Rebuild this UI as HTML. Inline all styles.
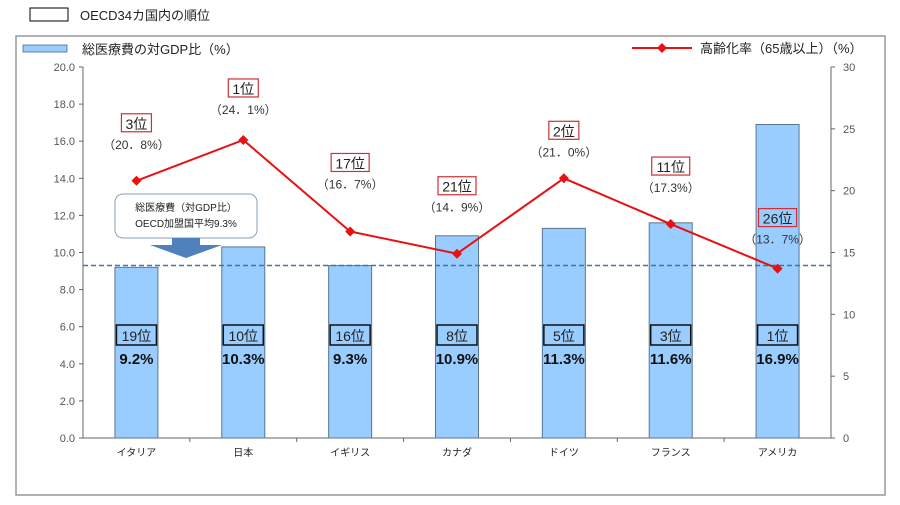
<!DOCTYPE html>
<html><head><meta charset="utf-8"><style>
body{margin:0;background:#fff;}
svg text{font-family:"Liberation Sans","Noto Sans CJK JP",sans-serif;}
</style></head><body>
<svg id="c" width="900" height="500" xmlns="http://www.w3.org/2000/svg"></svg>
<script>
const categories=["イタリア","日本","イギリス","カナダ","ドイツ","フランス","アメリカ"];
const gdpShare=[9.2,10.3,9.3,10.9,11.3,11.6,16.9];
const gdpRank=["19位","10位","16位","8位","5位","3位","1位"];
const agingRate=[20.8,24.1,16.7,14.9,21.0,17.3,13.7];
const agingRank=["3位","1位","17位","21位","2位","11位","26位"];
const agingLabel=["（20．8%）","（24．1%）","（16．7%）","（14．9%）","（21．0%）","（17.3%）","（13．7%）"];
const oecdAvg=9.3;
const leftTicks=[0,2,4,6,8,10,12,14,16,18,20];
const rightTicks=[0,5,10,15,20,25,30];
const labelOffset=[-58,-52,-69,-68,-48,-58,-51];

const NS="http://www.w3.org/2000/svg";
const svg=document.getElementById('c');
const X0=83,X1=831,Y0=438,Y1=67;
const band=(X1-X0)/categories.length;
const xc=i=>X0+band*(i+0.5);
const yL=v=>Y0-(v/20)*(Y0-Y1);
const yR=v=>Y0-(v/30)*(Y0-Y1);
function el(t,a,txt){const e=document.createElementNS(NS,t);for(const k in a)e.setAttribute(k,a[k]);if(txt!=null)e.textContent=txt;svg.appendChild(e);return e;}

let e;
e=el('rect',{x:16,y:36,width:869,height:459,fill:'#fff',stroke:'#999','stroke-width':1.5});

e=el('rect',{x:30,y:8,width:38,height:13,fill:'#fff',stroke:'#000','stroke-width':1});

e=el('text',{x:80,y:20,'font-size':13,fill:'#222'},'OECD34カ国内の順位');

e=el('rect',{x:23,y:45,width:44,height:7,fill:'#99ccff',stroke:'#4a6a8a','stroke-width':0.8});

e=el('text',{x:82,y:54,'font-size':13,fill:'#222'},'総医療費の対GDP比（%）');

e=el('line',{x1:632,y1:48,x2:692,y2:48,stroke:'#e81010','stroke-width':2});

e=el('path',{d:'M662 43 L667 48 L662 53 L657 48Z',fill:'#e81010'});

e=el('text',{x:700,y:53,'font-size':13,fill:'#222'},'高齢化率（65歳以上）（%）');


e=el('line',{x1:X0,y1:Y1,x2:X0,y2:Y0,stroke:'#666'});
e=el('line',{x1:X1,y1:Y1,x2:X1,y2:Y0,stroke:'#666'});
e=el('line',{x1:X0,y1:Y0,x2:X1,y2:Y0,stroke:'#666'});
leftTicks.forEach(v=>{
  e=el('line',{x1:X0-4,y1:yL(v),x2:X0,y2:yL(v),stroke:'#666'});
  e=el('text',{x:X0-8,y:yL(v)+4,'font-size':11,fill:'#555','text-anchor':'end'},v.toFixed(1));
  
});
rightTicks.forEach(v=>{
  e=el('line',{x1:X1,y1:yR(v),x2:X1+4,y2:yR(v),stroke:'#666'});
  e=el('text',{x:X1+12,y:yR(v)+4,'font-size':11,fill:'#555'},String(v));
  
});
for(let i=1;i<categories.length;i++){
  e=el('line',{x1:X0+band*i,y1:Y0,x2:X0+band*i,y2:Y0+4,stroke:'#666'});
}
categories.forEach((c,i)=>{
  e=el('rect',{x:xc(i)-21.5,y:yL(gdpShare[i]),width:43,height:Y0-yL(gdpShare[i]),fill:'#99ccff',stroke:'#5a7690','stroke-width':1});
  
  e=el('text',{x:xc(i),y:Y0+18,'font-size':10,fill:'#222','text-anchor':'middle'},c);
  
  e=el('rect',{x:xc(i)-20,y:325,width:40,height:20,fill:'none',stroke:'#111','stroke-width':1.5});
  
  e=el('text',{x:xc(i),y:341,'font-size':14,fill:'#222','text-anchor':'middle'},gdpRank[i]);
  
  e=el('text',{x:xc(i),y:364,'font-size':15,'font-weight':'bold',fill:'#111','text-anchor':'middle'},gdpShare[i].toFixed(1)+'%');
  
});
e=el('line',{x1:X0,y1:yL(oecdAvg),x2:X1,y2:yL(oecdAvg),stroke:'#3f72b0','stroke-width':1.5,'stroke-dasharray':'5,3'});

e=el('rect',{x:115,y:194,width:142,height:44,rx:8,fill:'#fff',stroke:'#8aa0b8'});

e=el('text',{x:186,y:211,'font-size':10,fill:'#222','text-anchor':'middle'},'総医療費（対GDP比）');

e=el('text',{x:186,y:227,'font-size':10,fill:'#222','text-anchor':'middle'},'OECD加盟国平均9.3%');

e=el('path',{d:'M172 238 L200 238 L200 245 L222 245 L186 258 L150 245 L172 245Z',fill:'#4f81bd'});

e=el('polyline',{points:agingRate.map((v,i)=>xc(i)+','+yR(v)).join(' '),fill:'none',stroke:'#e81010','stroke-width':2});

agingRate.forEach((v,i)=>{
  const x=xc(i),y=yR(v);
  e=el('path',{d:`M${x} ${y-5} L${x+5} ${y} L${x} ${y+5} L${x-5} ${y}Z`,fill:'#e81010'});
  
  const by=y+labelOffset[i];
  const w=agingRank[i].length>2?38:30;
  e=el('rect',{x:x-w/2,y:by-9,width:w,height:18,fill:'none',stroke:'#d03030','stroke-width':1.2});
  
  e=el('text',{x:x,y:by+6,'font-size':14,fill:'#222','text-anchor':'middle'},agingRank[i]);
  
  e=el('text',{x:x,y:by+26,'font-size':12,fill:'#333','text-anchor':'middle'},agingLabel[i]);
  
});
</script>
</body></html>
